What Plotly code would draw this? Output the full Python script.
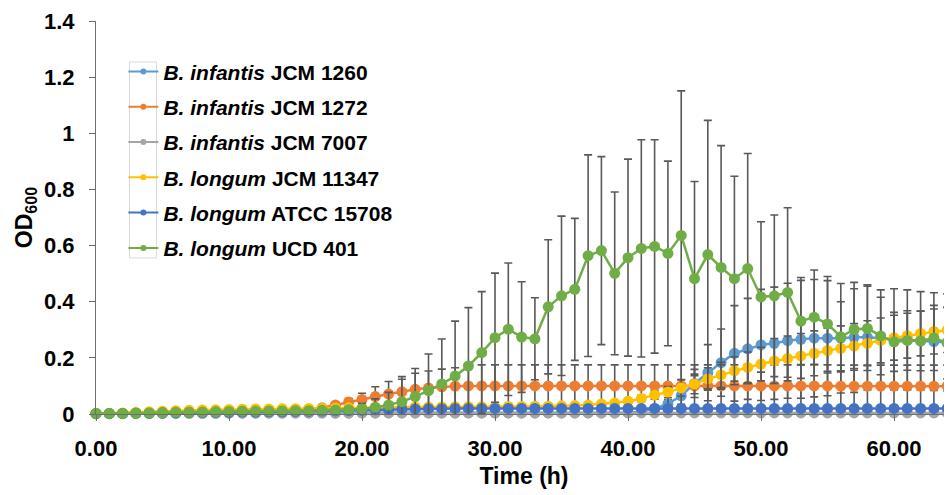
import plotly.graph_objects as go

hours = list(range(0, 65))

series_names = [
    "<b><i>B. infantis</i> JCM 1260</b>",
    "<b><i>B. infantis</i> JCM 1272</b>",
    "<b><i>B. infantis</i> JCM 7007</b>",
    "<b><i>B. longum</i> JCM 11347</b>",
    "<b><i>B. longum</i> ATCC 15708</b>",
    "<b><i>B. longum</i> UCD 401</b>",
]
series_colors = ["#5B9BD5", "#ED7D31", "#A5A5A5", "#FFC000", "#4472C4", "#70AD47"]

jcm1260 = [0.001, 0.001, 0.001, 0.002, 0.002, 0.002, 0.003, 0.003, 0.003, 0.003,
           0.004, 0.004, 0.004, 0.004, 0.004, 0.005, 0.005, 0.005, 0.004, 0.004,
           0.004, 0.004, 0.004, 0.004, 0.004, 0.004, 0.004, 0.004, 0.004, 0.004,
           0.004, 0.004, 0.004, 0.004, 0.004, 0.004, 0.004, 0.004, 0.004, 0.004,
           0.005, 0.008, 0.020, 0.036, 0.065, 0.109, 0.147, 0.183, 0.216, 0.232,
           0.246, 0.252, 0.261, 0.266, 0.270, 0.270, 0.270, 0.273, 0.273, 0.270,
           0.266, 0.264, 0.261, 0.258, 0.255]
jcm1260_err = [0.002] * 41 + [0.004, 0.010, 0.015, 0.030, 0.050, 0.100, 0.120, 0.170, 0.180,
                              0.198, 0.200, 0.205, 0.210, 0.209, 0.205, 0.195, 0.196, 0.187, 0.172,
                              0.180, 0.178, 0.175, 0.174, 0.173]

jcm1272 = [0.002, 0.002, 0.002, 0.003, 0.004, 0.005, 0.006, 0.007, 0.008, 0.009,
           0.010, 0.011, 0.012, 0.013, 0.014, 0.015, 0.016, 0.022, 0.032, 0.043,
           0.052, 0.062, 0.071, 0.079, 0.088, 0.093, 0.097, 0.099, 0.100, 0.100,
           0.100, 0.100, 0.100, 0.100, 0.100, 0.100, 0.100, 0.100, 0.100, 0.100,
           0.100, 0.100, 0.100, 0.100, 0.100, 0.100, 0.100, 0.100, 0.100, 0.100,
           0.100, 0.100, 0.100, 0.100, 0.100, 0.100, 0.099, 0.099, 0.099, 0.099,
           0.099, 0.099, 0.099, 0.099, 0.099]
jcm1272_err = [0.002] * 17 + [0.006, 0.008, 0.012, 0.022, 0.035, 0.045, 0.045, 0.057, 0.060,
                              0.063, 0.066, 0.072] + [0.075] * 36

jcm7007 = [0.001, 0.001, 0.001, 0.002, 0.002, 0.002, 0.002, 0.002, 0.002, 0.002,
           0.003, 0.003, 0.003, 0.003, 0.003, 0.003, 0.003, 0.003, 0.003, 0.003,
           0.004, 0.004, 0.004, 0.004, 0.004, 0.004, 0.004, 0.004, 0.004, 0.004,
           0.004, 0.004, 0.004, 0.004, 0.004, 0.004, 0.004, 0.004, 0.004, 0.004,
           0.004, 0.004, 0.004, 0.004, 0.004, 0.004, 0.004, 0.004, 0.004, 0.004,
           0.004, 0.004, 0.004, 0.004, 0.004, 0.004, 0.004, 0.004, 0.004, 0.004,
           0.004, 0.004, 0.004, 0.004, 0.004]
jcm7007_err = [0.002] * 65

jcm11347 = [0.002, 0.003, 0.004, 0.006, 0.008, 0.010, 0.012, 0.013, 0.014, 0.015,
            0.016, 0.017, 0.018, 0.018, 0.019, 0.019, 0.020, 0.020, 0.021, 0.022,
            0.023, 0.023, 0.024, 0.024, 0.025, 0.025, 0.025, 0.026, 0.026, 0.026,
            0.026, 0.027, 0.027, 0.028, 0.028, 0.029, 0.030, 0.032, 0.036, 0.039,
            0.045, 0.055, 0.068, 0.078, 0.093, 0.107, 0.125, 0.139, 0.154, 0.166,
            0.178, 0.189, 0.198, 0.207, 0.216, 0.226, 0.234, 0.242, 0.252, 0.262,
            0.272, 0.279, 0.287, 0.294, 0.299]
jcm11347_err = [0.004] * 38 + [0.006, 0.008, 0.010, 0.012, 0.015, 0.020, 0.030, 0.035, 0.040,
                               0.045, 0.050, 0.055, 0.060] + [0.080] * 14

atcc15708 = [0.001, 0.002, 0.002, 0.003, 0.003, 0.004, 0.004, 0.005, 0.005, 0.006,
             0.006, 0.007, 0.007, 0.008, 0.008, 0.009, 0.009, 0.010, 0.011, 0.012,
             0.013, 0.015, 0.016, 0.017, 0.018, 0.019, 0.019, 0.020, 0.020, 0.020,
             0.020, 0.020, 0.020, 0.020, 0.020, 0.020, 0.020, 0.020, 0.020, 0.020,
             0.020, 0.020, 0.020, 0.020, 0.020, 0.020, 0.020, 0.020, 0.020, 0.020,
             0.020, 0.020, 0.020, 0.020, 0.020, 0.020, 0.020, 0.020, 0.020, 0.020,
             0.020, 0.020, 0.020, 0.020, 0.020]
atcc15708_err = [0.002] * 20 + [0.005] * 45

ucd401 = [0.002, 0.002, 0.002, 0.003, 0.004, 0.005, 0.006, 0.006, 0.007, 0.008,
          0.009, 0.010, 0.010, 0.011, 0.011, 0.012, 0.012, 0.013, 0.014, 0.015,
          0.018, 0.024, 0.032, 0.044, 0.062, 0.083, 0.107, 0.135, 0.171, 0.219,
          0.272, 0.302, 0.274, 0.268, 0.382, 0.421, 0.444, 0.564, 0.582, 0.501,
          0.557, 0.590, 0.597, 0.572, 0.636, 0.482, 0.568, 0.522, 0.482, 0.518,
          0.417, 0.421, 0.433, 0.331, 0.345, 0.321, 0.275, 0.301, 0.305, 0.278,
          0.257, 0.262, 0.260, 0.271, 0.253]
ucd401_err = [0.002] * 17 + [0.004, 0.006, 0.010, 0.020, 0.030, 0.045, 0.089, 0.100, 0.131,
                             0.160, 0.196, 0.208, 0.217, 0.230, 0.236, 0.197, 0.146, 0.239,
                             0.284, 0.253, 0.359, 0.335, 0.290, 0.351, 0.387, 0.380, 0.329,
                             0.515, 0.346, 0.478, 0.434, 0.365, 0.410, 0.268, 0.288, 0.302,
                             0.155, 0.168, 0.169, 0.125, 0.145, 0.150, 0.138, 0.105, 0.106,
                             0.106, 0.116, 0.128]

y_values = [jcm1260, jcm1272, jcm7007, jcm11347, atcc15708, ucd401]
y_errors = [jcm1260_err, jcm1272_err, jcm7007_err, jcm11347_err, atcc15708_err, ucd401_err]

x_ticks = [0, 10, 20, 30, 40, 50, 60]
y_ticks = [0, 0.2, 0.4, 0.6, 0.8, 1.0, 1.2, 1.4]

FONT = "Arial, 'Liberation Sans', sans-serif"
AXIS_GREY = "#6E6E6E"
fig = go.Figure()

for i, (name, color, ys, errs) in enumerate(zip(series_names, series_colors, y_values, y_errors)):
    fig.add_trace(go.Scatter(
        x=hours, y=ys, mode="lines+markers", name=name, showlegend=False,
        line=dict(color=color, width=2.5),
        marker=dict(color=color, size=11),
        error_y=dict(type="data", array=errs, visible=True, color="#595959",
                     thickness=1.6, width=4),
        cliponaxis=False, legendgroup=f"g{i}",
    ))

for i, (name, color) in enumerate(zip(series_names, series_colors)):
    fig.add_trace(go.Scatter(
        x=[None], y=[None], mode="lines+markers", name=name, showlegend=True,
        line=dict(color=color, width=2), marker=dict(color=color, size=6),
        legendgroup=f"g{i}",
    ))

fig.add_shape(type="rect", xref="x", yref="y", x0=2.52, x1=4.55, y0=0.556, y1=1.254,
              line=dict(color="#D9D9D9", width=1), fillcolor="rgba(0,0,0,0)", layer="below")

# the page body adds an 8px offset, so the figure is 944x487 and margins are reduced by 8
fig.update_layout(
    width=944, height=487,
    margin=dict(l=88, r=0, t=13, b=81, autoexpand=False),
    paper_bgcolor="white", plot_bgcolor="white",
    font=dict(family=FONT, color="black"),
    showlegend=True,
    legend=dict(x=0.032, y=0.923, xanchor="left", yanchor="top",
                bgcolor="rgba(0,0,0,0)", borderwidth=0,
                font=dict(size=21, family=FONT, color="black"),
                tracegroupgap=5, itemwidth=30),
    xaxis=dict(range=[0, 64.36], tickvals=x_ticks, tickformat=".2f", automargin=False,
               showgrid=False, zeroline=False, showline=True, linecolor=AXIS_GREY,
               linewidth=1, ticks="outside", ticklen=6, tickcolor=AXIS_GREY,
               ticklabelstandoff=9,
               tickfont=dict(size=22, family=FONT, color="black", weight="bold"),
               title=dict(text="<b>Time (h)</b>", font=dict(size=23, family=FONT),
                          standoff=7)),
    yaxis=dict(range=[0, 1.4], tickvals=y_ticks, automargin=False,
               showgrid=False, zeroline=False, showline=True, linecolor=AXIS_GREY,
               linewidth=1, ticks="outside", ticklen=6, tickcolor=AXIS_GREY,
               ticklabelstandoff=10,
               tickfont=dict(size=22, family=FONT, color="black", weight="bold"),
               title=dict(text="<b>OD<sub>600</sub></b>", font=dict(size=23, family=FONT),
                          standoff=4)),
)

fig.write_html("out.html")
